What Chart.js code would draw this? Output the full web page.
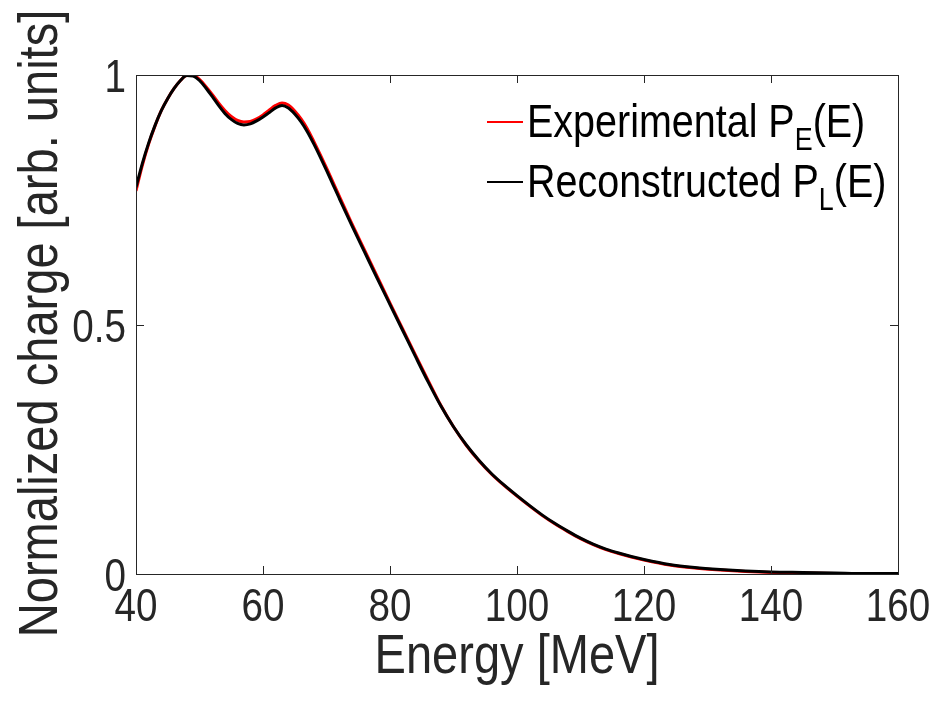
<!DOCTYPE html>
<html>
<head>
<meta charset="utf-8">
<script src="https://cdn.jsdelivr.net/npm/chart.js@4.4.1/dist/chart.umd.min.js"></script>
<style>
  html, body { margin: 0; padding: 0; background: #fff; }
  canvas { display: block; }
</style>
</head>
<body>
<canvas id="chart" width="939" height="702"></canvas>
<script>
// Energy grid [MeV]
const energy = [40, 41, 42, 43, 44, 45, 46, 47, 48, 49, 50, 51, 52, 53, 54, 55, 56, 57, 58, 59,
    60, 61, 62, 63, 64, 65, 66, 67, 68, 69, 70, 71, 72, 74, 76, 78, 80, 82, 84, 86, 88, 90, 92, 94, 96, 98,
    100, 102, 104, 106, 108, 110, 112, 114, 116, 118, 120, 124, 128, 132, 136, 140, 145, 150, 155, 160];

// Experimental P_E(E)
const experimental = [0.768, 0.819, 0.862, 0.898, 0.929, 0.953, 0.973, 0.989, 0.999, 0.999, 0.991, 0.977,
    0.961, 0.944, 0.929, 0.917, 0.909, 0.906, 0.907, 0.912, 0.920, 0.930, 0.939, 0.944, 0.940, 0.928,
    0.912, 0.892, 0.867, 0.841, 0.814, 0.786, 0.758, 0.702, 0.649, 0.596, 0.543, 0.491, 0.439, 0.388, 0.338,
    0.295, 0.258, 0.227, 0.200, 0.177, 0.156, 0.136, 0.117, 0.100, 0.085, 0.071, 0.059, 0.049, 0.041,
    0.034, 0.028, 0.018, 0.012, 0.008, 0.005, 0.003, 0.002, 0.001, 0.000, 0.000];

// Reconstructed P_L(E)
const reconstructed = [0.775, 0.823, 0.864, 0.899, 0.929, 0.953, 0.973, 0.989, 0.999, 0.998, 0.989, 0.974,
    0.957, 0.939, 0.923, 0.911, 0.903, 0.900, 0.902, 0.908, 0.916, 0.925, 0.934, 0.939, 0.934, 0.922,
    0.906, 0.886, 0.862, 0.836, 0.809, 0.781, 0.753, 0.698, 0.645, 0.592, 0.540, 0.488, 0.436, 0.385, 0.337,
    0.295, 0.259, 0.228, 0.201, 0.178, 0.157, 0.137, 0.118, 0.101, 0.086, 0.072, 0.060, 0.050, 0.042,
    0.035, 0.029, 0.019, 0.013, 0.009, 0.006, 0.004, 0.003, 0.002, 0.001, 0.001];

const xTicks = [40, 60, 80, 100, 120, 140, 160];
const yTicks = [0, 0.5, 1];
const xTitle = 'Energy [MeV]';
const yTitle = 'Normalized charge [arb. units]';

const FONT = "'Liberation Sans', Arial, Helvetica, sans-serif";
const AXIS_COLOR = '#262626';
const SQUEEZE = 0.84; // MATLAB's Helvetica comes out narrow

const toPoints = (ys) => energy.map((e, i) => ({ x: e, y: ys[i] }));

// draw narrow text at (x, y), optionally rotated
function narrowText(ctx, text, x, y, size, align, rot) {
    ctx.save();
    ctx.translate(x, y);
    if (rot) ctx.rotate(rot);
    ctx.scale(SQUEEZE, 1);
    ctx.font = size + 'px ' + FONT;
    ctx.textAlign = align;
    ctx.textBaseline = 'alphabetic';
    ctx.fillText(text, 0, 0);
    const w = ctx.measureText(text).width * SQUEEZE;
    ctx.restore();
    return w;
}

// white background, box and inward ticks (MATLAB style)
const boxPlugin = {
    id: 'box',
    beforeDraw(chart) {
        const ctx = chart.ctx;
        ctx.save();
        ctx.fillStyle = '#fff';
        ctx.fillRect(0, 0, chart.width, chart.height);
        ctx.restore();
    },
    afterDatasetsDraw(chart) {
        const { ctx, chartArea: a, scales } = chart;
        const len = 8;
        ctx.save();
        ctx.strokeStyle = AXIS_COLOR;
        ctx.lineWidth = 1;
        ctx.beginPath();
        xTicks.forEach(v => {
            const px = Math.round(scales.x.getPixelForValue(v)) + 0.5;
            ctx.moveTo(px, a.bottom); ctx.lineTo(px, a.bottom - len);
            ctx.moveTo(px, a.top); ctx.lineTo(px, a.top + len);
        });
        yTicks.forEach(v => {
            const py = Math.round(scales.y.getPixelForValue(v)) + 0.5;
            ctx.moveTo(a.left, py); ctx.lineTo(a.left + len, py);
            ctx.moveTo(a.right, py); ctx.lineTo(a.right - len, py);
        });
        ctx.stroke();
        ctx.strokeRect(Math.round(a.left) + 0.5, Math.round(a.top) + 0.5,
            Math.round(a.right - a.left), Math.round(a.bottom - a.top));

        // tick labels and axis titles
        ctx.fillStyle = AXIS_COLOR;
        xTicks.forEach(v => {
            narrowText(ctx, String(v), scales.x.getPixelForValue(v), a.bottom + 47, 46, 'center');
        });
        yTicks.forEach(v => {
            narrowText(ctx, String(v), a.left - 10, scales.y.getPixelForValue(v) + 17, 46, 'right');
        });
        narrowText(ctx, xTitle, (a.left + a.right) / 2, 673, 56, 'center');
        narrowText(ctx, yTitle, 57, (a.top + a.bottom) / 2 - 1, 56, 'center', -Math.PI / 2);
        ctx.restore();
    }
};

// legend with subscripts
const legendPlugin = {
    id: 'subLegend',
    afterDraw(chart) {
        const ctx = chart.ctx;
        const entries = [
            { color: '#ff0000', text: 'Experimental P', sub: 'E', tail: '(E)', y: 137 },
            { color: '#000000', text: 'Reconstructed P', sub: 'L', tail: '(E)', y: 197 }
        ];
        ctx.save();
        ctx.fillStyle = '#000';
        entries.forEach(en => {
            ctx.strokeStyle = en.color;
            ctx.lineWidth = 2;
            ctx.beginPath();
            ctx.moveTo(487, en.y - 15);
            ctx.lineTo(523, en.y - 15);
            ctx.stroke();
            let x = 527;
            x += narrowText(ctx, en.text, x, en.y, 47, 'left');
            x += narrowText(ctx, en.sub, x, en.y + 13, 32, 'left');
            narrowText(ctx, en.tail, x, en.y, 47, 'left');
        });
        ctx.restore();
    }
};

new Chart(document.getElementById('chart'), {
    type: 'line',
    data: {
        datasets: [{
            label: 'Experimental',
            data: toPoints(experimental),
            borderColor: '#ff0000',
            borderWidth: 3,
            pointRadius: 0,
            cubicInterpolationMode: 'monotone',
            order: 2
        }, {
            label: 'Reconstructed',
            data: toPoints(reconstructed),
            borderColor: '#000000',
            borderWidth: 3,
            pointRadius: 0,
            cubicInterpolationMode: 'monotone',
            order: 1
        }]
    },
    options: {
        responsive: false,
        animation: false,
        events: [],
        layout: { padding: { top: 75, right: 41, left: 0, bottom: 0 } },
        plugins: { legend: { display: false }, tooltip: { enabled: false } },
        scales: {
            x: {
                type: 'linear',
                min: 40,
                max: 160,
                afterBuildTicks: (s) => { s.ticks = xTicks.map(v => ({ value: v })); },
                afterFit: (s) => { s.height = 128; },
                grid: { display: false },
                border: { display: false },
                ticks: { display: false }
            },
            y: {
                min: 0,
                max: 1,
                afterBuildTicks: (s) => { s.ticks = yTicks.map(v => ({ value: v })); },
                afterFit: (s) => { s.width = 136; },
                grid: { display: false },
                border: { display: false },
                ticks: { display: false }
            }
        }
    },
    plugins: [boxPlugin, legendPlugin]
});
</script>
</body>
</html>
